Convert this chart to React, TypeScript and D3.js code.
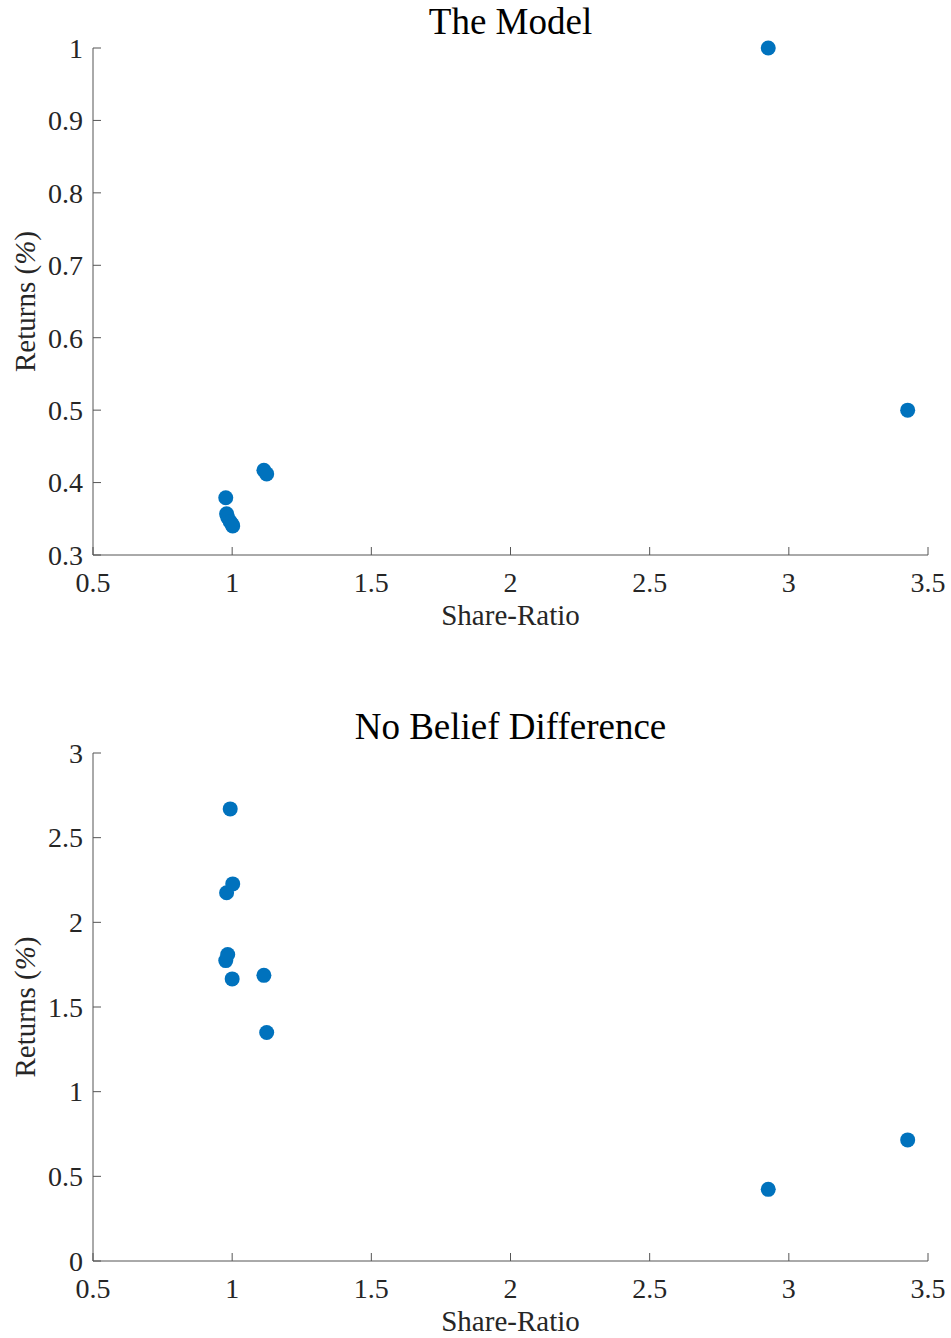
import React from "react";
import * as d3 from "d3";

// share-ratio of each firm (same in both panels)
const shareRatio = [0.977, 0.98, 0.984, 0.993, 1.0, 1.002, 1.114, 1.124, 2.926, 3.427];
// returns (%) in the model
const modelReturns = [0.379, 0.357, 0.352, 0.346, 0.342, 0.34, 0.417, 0.412, 1.0, 0.5];
// returns (%) with no belief difference
const noBeliefReturns = [1.774, 2.175, 1.81, 2.67, 1.666, 2.227, 1.687, 1.349, 0.423, 0.715];

const xTicks = [0.5, 1, 1.5, 2, 2.5, 3, 3.5];
const modelYTicks = [0.3, 0.4, 0.5, 0.6, 0.7, 0.8, 0.9, 1];
const noBeliefYTicks = [0, 0.5, 1, 1.5, 2, 2.5, 3];

const W = 951;
const H = 1338;
const left = 93;
const right = 928;
const font = "'Liberation Serif', 'Times New Roman', serif";
const axisColor = "#555";
const textColor = "#262626";
const dotColor = "#0072BD";

type PanelProps = {
  title: string;
  ys: number[];
  yDomain: [number, number];
  yTicks: number[];
  top: number;
  bottom: number;
};

const Panel = ({ title, ys, yDomain, yTicks, top, bottom }: PanelProps) => {
  const x = d3.scaleLinear().domain([0.5, 3.5]).range([left, right]);
  const y = d3.scaleLinear().domain(yDomain).range([bottom, top]);
  const fmt = (d: number) => String(d);
  const tick = 8;

  return (
    <g>
      <text
        x={(left + right) / 2}
        y={top - 14}
        textAnchor="middle"
        fontFamily={font}
        fontSize={37}
        fill="#000"
      >
        {title}
      </text>
      {/* axes */}
      <line x1={left} x2={left} y1={top} y2={bottom} stroke={axisColor} strokeWidth={1} />
      <line x1={left} x2={right} y1={bottom} y2={bottom} stroke={axisColor} strokeWidth={1} />
      {xTicks.map(t => (
        <g key={"x" + t}>
          <line x1={x(t)} x2={x(t)} y1={bottom} y2={bottom - tick} stroke={axisColor} />
          <text
            x={x(t)}
            y={bottom + 37}
            textAnchor="middle"
            fontFamily={font}
            fontSize={28}
            fill={textColor}
          >
            {fmt(t)}
          </text>
        </g>
      ))}
      {yTicks.map(t => (
        <g key={"y" + t}>
          <line x1={left} x2={left + tick} y1={y(t)} y2={y(t)} stroke={axisColor} />
          <text
            x={left - 10}
            y={y(t)}
            dy="0.35em"
            textAnchor="end"
            fontFamily={font}
            fontSize={28}
            fill={textColor}
          >
            {fmt(t)}
          </text>
        </g>
      ))}
      <text
        x={(left + right) / 2}
        y={bottom + 70}
        textAnchor="middle"
        fontFamily={font}
        fontSize={29}
        fill={textColor}
      >
        Share-Ratio
      </text>
      <text
        transform={`translate(35,${(top + bottom) / 2}) rotate(-90)`}
        textAnchor="middle"
        fontFamily={font}
        fontSize={29}
        fill={textColor}
      >
        Returns (<tspan fontStyle="italic">%</tspan>)
      </text>
      {shareRatio.map((s, i) => (
        <circle key={i} cx={x(s)} cy={y(ys[i])} r={7.5} fill={dotColor} />
      ))}
    </g>
  );
};

export default function App() {
  return (
    <svg
      width={W}
      height={H}
      style={{ position: "absolute", left: 0, top: 0, background: "#fff" }}
    >
      <rect width={W} height={H} fill="#fff" />
      <Panel
        title="The Model"
        ys={modelReturns}
        yDomain={[0.3, 1]}
        yTicks={modelYTicks}
        top={48}
        bottom={555}
      />
      <Panel
        title="No Belief Difference"
        ys={noBeliefReturns}
        yDomain={[0, 3]}
        yTicks={noBeliefYTicks}
        top={753}
        bottom={1261}
      />
    </svg>
  );
}
